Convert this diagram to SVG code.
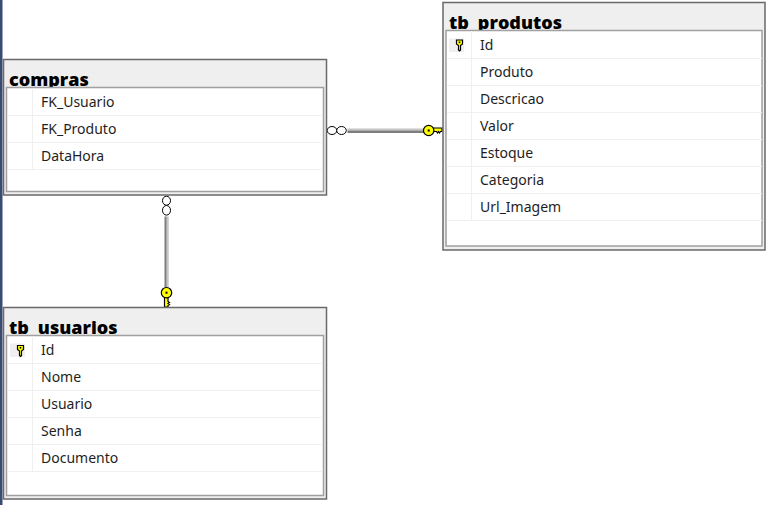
<svg xmlns="http://www.w3.org/2000/svg" width="768" height="505" viewBox="0 0 768 505">
<defs>
<style>
.outer{fill:#efefef;stroke:#696969;stroke-width:1.5}
.inner{fill:#fff;stroke:#a0a0a0;stroke-width:1.5}
.row{stroke:#efefef;stroke-width:1;fill:none}
.t{font-family:"Open Sans","Noto Sans",sans-serif;font-weight:800;font-size:18px;fill:#000}
.c{font-family:"Noto Sans","Open Sans",sans-serif;font-size:14px;fill:#1e1e1e}
.ring{fill:#fff;stroke:#000;stroke-width:1}
.key{fill:#ff0;stroke:#000;stroke-width:1.200}
</style>
<g id="smallkey"><path class="key" d="M-3 -4.500h6v4l-2 1.500v4.500l-1 1l-1 -1v-4.500l-2 -1.500z"/><rect x="-0.800" y="-3" width="1.600" height="1.600" fill="#000"/></g>
</defs>
<rect x="0" y="0" width="768" height="505" fill="#fff"/>
<rect x="0" y="0" width="2.500" height="505" fill="#3b4a72"/>

<g id="connectors">
<g id="rel-produtos">
<rect x="347.500" y="128.500" width="77" height="2" fill="#c4c4c4"/><rect x="347.500" y="130.500" width="77" height="2.500" fill="#7d7d7d"/>
<ellipse class="ring" cx="332" cy="130.500" rx="4.800" ry="4"/><ellipse class="ring" cx="341.500" cy="130.500" rx="4.800" ry="4"/>
<path class="key" d="M433 128h9v3.500h-1.500l-1 1.500l-1 -1.500l-1 1.500l-1 -1.500h-3.500z"/>
<circle class="key" cx="428.700" cy="130.500" r="5.200"/><rect x="427.700" y="129.500" width="2" height="2" fill="#000"/>
</g>
<g id="rel-usuarios">
<rect x="164.500" y="216.500" width="2.200" height="71" fill="#7d7d7d"/><rect x="166.700" y="216.500" width="2" height="71" fill="#c4c4c4"/>
<ellipse class="ring" cx="166.500" cy="200.700" rx="4" ry="4.500"/><ellipse class="ring" cx="166.500" cy="210.300" rx="4" ry="4.800"/>
<path class="key" d="M164.500 297v10h3.500v-1.500l1.500 -1l-1.500 -1l1.500 -1l-1.500 -1v-4.500z"/>
<circle class="key" cx="166.500" cy="292.700" r="5.200"/><rect x="165.500" y="291.700" width="2" height="2" fill="#000"/>
</g>
</g>

<g id="compras">
<rect class="outer" x="3.500" y="59.500" width="323" height="135.500"/>
<text class="t" x="9" y="86">compras</text>
<rect class="inner" x="6.500" y="87.500" width="317" height="104"/>
<path class="row" d="M7 115.500H323M7 142.500H323M7 169.500H323M32.500 88V169"/>
<text class="c" x="41" y="107">FK_Usuario</text>
<text class="c" x="41" y="134">FK_Produto</text>
<text class="c" x="41" y="161">DataHora</text>
</g>

<g id="tb_produtos">
<rect class="outer" x="443" y="2.500" width="322" height="247.500"/>
<text class="t" x="449" y="29">tb_produtos</text>
<rect class="inner" x="446" y="30.500" width="316" height="215.500"/>
<path class="row" d="M447 58.500H762M447 85.500H762M447 112.500H762M447 139.500H762M447 166.500H762M447 193.500H762M447 220.500H762M471.500 31V220"/>
<rect x="449" y="38.500" width="15" height="13.500" fill="#efefef"/>
<use href="#smallkey" x="459.500" y="44.500"/>
<text class="c" x="480" y="50">Id</text>
<text class="c" x="480" y="77">Produto</text>
<text class="c" x="480" y="104">Descricao</text>
<text class="c" x="480" y="131">Valor</text>
<text class="c" x="480" y="158">Estoque</text>
<text class="c" x="480" y="185">Categoria</text>
<text class="c" x="480" y="212">Url_Imagem</text>
</g>

<g id="tb_usuarios">
<rect class="outer" x="3.500" y="307.500" width="323" height="191.500"/>
<text class="t" x="9" y="334">tb_usuarios</text>
<rect class="inner" x="6.500" y="335.500" width="317" height="160"/>
<path class="row" d="M7 363.500H323M7 390.500H323M7 417.500H323M7 444.500H323M7 471.500H323M32.500 336V471"/>
<rect x="10" y="343.500" width="15" height="13.500" fill="#efefef"/>
<use href="#smallkey" x="20.500" y="350"/>
<text class="c" x="41" y="355">Id</text>
<text class="c" x="41" y="382">Nome</text>
<text class="c" x="41" y="409">Usuario</text>
<text class="c" x="41" y="436">Senha</text>
<text class="c" x="41" y="463">Documento</text>
</g>
</svg>
